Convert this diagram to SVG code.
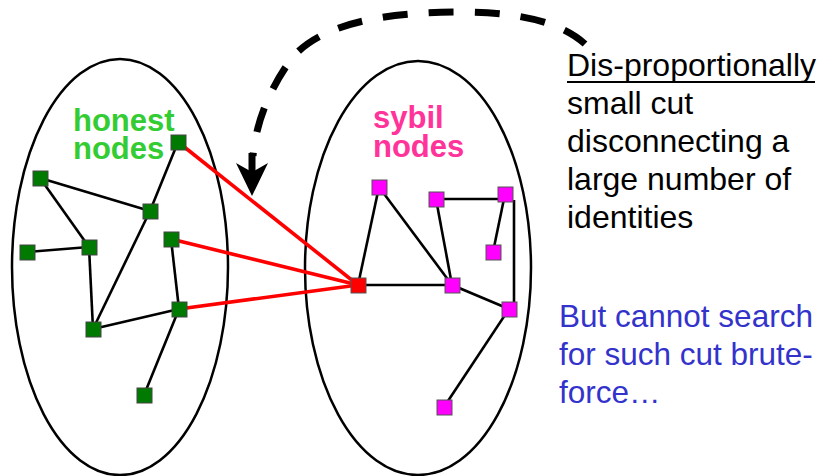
<svg xmlns="http://www.w3.org/2000/svg" width="822" height="476" viewBox="0 0 822 476">
<style>
.ell{fill:none;stroke:#000;stroke-width:2.5}
.e{stroke:#000;stroke-width:2.6;fill:none}
.r{stroke:#ff0000;stroke-width:3.6;fill:none}
.g{fill:#007a00;stroke:#444;stroke-width:1}
.m{fill:#ff00ff;stroke:#555;stroke-width:1}
.rn{fill:#ff0000;stroke:#555;stroke-width:1}
.lbl{font-family:"Liberation Sans",Arial,sans-serif;font-weight:bold;font-size:31px}
.t{font-family:"Liberation Sans",Arial,sans-serif;font-size:32px;fill:#000}
.b{font-family:"Liberation Sans",Arial,sans-serif;font-size:31.5px;fill:#3333cc}
</style>
<rect width="822" height="476" fill="#fff"/>
<g id="honest-region"><ellipse class="ell" cx="120" cy="267" rx="108" ry="208"/></g>
<g id="sybil-region"><ellipse class="ell" cx="418" cy="268" rx="113" ry="207"/></g>
<g id="connectors">
<line class="e" x1="178" y1="142" x2="150" y2="211"/>
<line class="e" x1="40" y1="178" x2="150" y2="211"/>
<line class="e" x1="40" y1="178" x2="89" y2="247"/>
<line class="e" x1="27" y1="252" x2="89" y2="247"/>
<line class="e" x1="89" y1="247" x2="93" y2="329"/>
<line class="e" x1="150" y1="211" x2="93" y2="329"/>
<line class="e" x1="93" y1="329" x2="179" y2="309"/>
<line class="e" x1="171" y1="239" x2="179" y2="309"/>
<line class="e" x1="179" y1="309" x2="144" y2="395"/>
<line class="r" x1="178" y1="142" x2="358" y2="285"/>
<line class="r" x1="171" y1="239" x2="358" y2="285"/>
<line class="r" x1="179" y1="309" x2="358" y2="285"/>
<line class="e" x1="358" y1="285" x2="379" y2="187"/>
<line class="e" x1="379" y1="187" x2="452" y2="285"/>
<line class="e" x1="358" y1="285" x2="452" y2="285"/>
<line class="e" x1="436" y1="199" x2="452" y2="285"/>
<line class="e" x1="436" y1="199" x2="505" y2="199"/>
<line class="e" x1="505" y1="194" x2="493" y2="252"/>
<line class="e" x1="514" y1="200" x2="514" y2="304"/>
<line class="e" x1="452" y1="285" x2="509" y2="309"/>
<line class="e" x1="509" y1="309" x2="444" y2="407"/>
<path d="M585,44 Q550,12 460,12 C380,12 320,25 292,58 C272,85 256,120 253,156" fill="none" stroke="#000" stroke-width="7" stroke-dasharray="25 21"/>
<line x1="252" y1="153" x2="252" y2="178" stroke="#000" stroke-width="7"/>
<polygon points="252,196 236,163 252,172 268,163" fill="#000"/>
</g>
<g id="h1"><rect class="g" x="171" y="135" width="15" height="15"/></g>
<g id="h2"><rect class="g" x="33" y="171" width="15" height="15"/></g>
<g id="h3"><rect class="g" x="143" y="204" width="15" height="15"/></g>
<g id="h4"><rect class="g" x="20" y="245" width="15" height="15"/></g>
<g id="h5"><rect class="g" x="82" y="240" width="15" height="15"/></g>
<g id="h6"><rect class="g" x="164" y="232" width="15" height="15"/></g>
<g id="h7"><rect class="g" x="172" y="302" width="15" height="15"/></g>
<g id="h8"><rect class="g" x="86" y="322" width="15" height="15"/></g>
<g id="h9"><rect class="g" x="137" y="388" width="15" height="15"/></g>
<g id="s0"><rect class="rn" x="351" y="278" width="15" height="15"/></g>
<g id="s1"><rect class="m" x="372" y="180" width="15" height="15"/></g>
<g id="s2"><rect class="m" x="429" y="192" width="15" height="15"/></g>
<g id="s3"><rect class="m" x="498" y="187" width="15" height="15"/></g>
<g id="s4"><rect class="m" x="486" y="245" width="15" height="15"/></g>
<g id="s5"><rect class="m" x="445" y="278" width="15" height="15"/></g>
<g id="s6"><rect class="m" x="502" y="302" width="15" height="15"/></g>
<g id="s7"><rect class="m" x="437" y="400" width="15" height="15"/></g>
<g id="honest-label"><text class="lbl" fill="#33cc33"><tspan x="73" y="131">honest</tspan><tspan x="73" y="159">nodes</tspan></text></g>
<g id="sybil-label"><text class="lbl" fill="#ff3399"><tspan x="373" y="128">sybil</tspan><tspan x="373" y="157">nodes</tspan></text></g>
<g id="cut-note">
<text class="t"><tspan x="567" y="76">Dis-proportionally</tspan><tspan x="567" y="114">small cut</tspan><tspan x="567" y="152">disconnecting a</tspan><tspan x="567" y="190">large number of</tspan><tspan x="567" y="228">identities</tspan></text>
<line x1="567" y1="82" x2="815" y2="82" stroke="#000" stroke-width="2"/>
</g>
<g id="search-note"><text class="b"><tspan x="559" y="327">But cannot search</tspan><tspan x="559" y="365">for such cut brute-</tspan><tspan x="559" y="403">force…</tspan></text></g>
</svg>
